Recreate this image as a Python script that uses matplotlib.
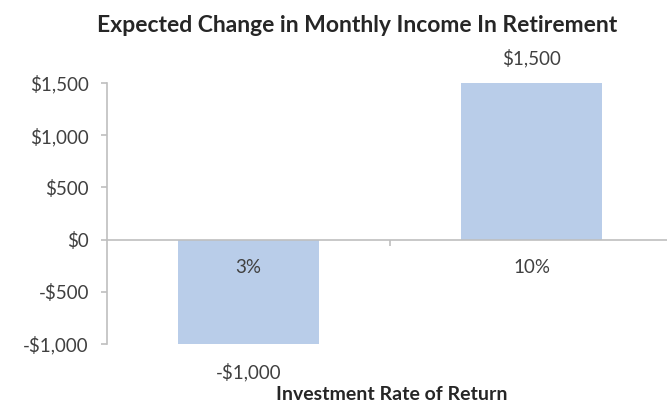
import matplotlib.pyplot as plt

# data
categories = ["3%", "10%"]
values = [-1000, 1500]
value_labels = ["-$1,000", "$1,500"]
y_ticks = [-1000, -500, 0, 500, 1000, 1500]
y_tick_labels = ["-$1,000", "-$500", "$0", "$500", "$1,000", "$1,500"]

plt.rcParams['font.family'] = ['Lato', 'DejaVu Sans']
text_color = "#404040"
axis_color = "#BFBFBF"
bar_color = "#B9CDE9"

W, H = 667, 404
fig = plt.figure(figsize=(W / 100, H / 100), dpi=100)
ax = fig.add_axes([107 / W, (H - 344) / H, (673 - 107) / W, (344 - 83) / H])
ax.set_axisbelow(False)

x = list(range(len(categories)))
bars = ax.bar(x, values, width=0.5, color=bar_color, zorder=2)

ax.set_xlim(-0.5, len(categories) - 0.5)
ax.set_ylim(y_ticks[0], y_ticks[-1])

# spines
for side in ["top", "right"]:
    ax.spines[side].set_visible(False)
ax.spines["left"].set_color(axis_color)
ax.spines["left"].set_linewidth(1.2)
ax.spines["bottom"].set_position(("data", 0))
ax.spines["bottom"].set_color(axis_color)
ax.spines["bottom"].set_linewidth(1.2)

ax.set_yticks(y_ticks)
ax.set_yticklabels(y_tick_labels)
ax.tick_params(axis="y", colors=axis_color, labelcolor=text_color, labelsize=13.5,
               length=4, width=1.2, pad=9)

ax.set_xticks(x)
ax.set_xticklabels(categories)
ax.tick_params(axis="x", which="major", length=0, pad=14, labelsize=13.5, labelcolor=text_color)
ax.set_xticks([i + 0.5 for i in x[:-1]], minor=True)
ax.tick_params(axis="x", which="minor", length=4, width=1.2, color=axis_color)

# data labels
for b, v, lab in zip(bars, values, value_labels):
    cx = b.get_x() + b.get_width() / 2
    off = 18 if v >= 0 else -20
    ax.annotate(lab, (cx, v), xytext=(0, off), textcoords="offset points",
                ha="center", va="center", fontsize=13.5, color=text_color)

fig.text(357 / W, 1 - 32 / H, "Expected Change in Monthly Income In Retirement",
         ha="center", va="baseline", fontsize=16.5, fontweight="bold", color="#262626")
fig.text(392 / W, 1 - 400 / H, "Investment Rate of Return",
         ha="center", va="baseline", fontsize=14, fontweight="bold", color="#262626")

fig.savefig("out.png", dpi=100)
